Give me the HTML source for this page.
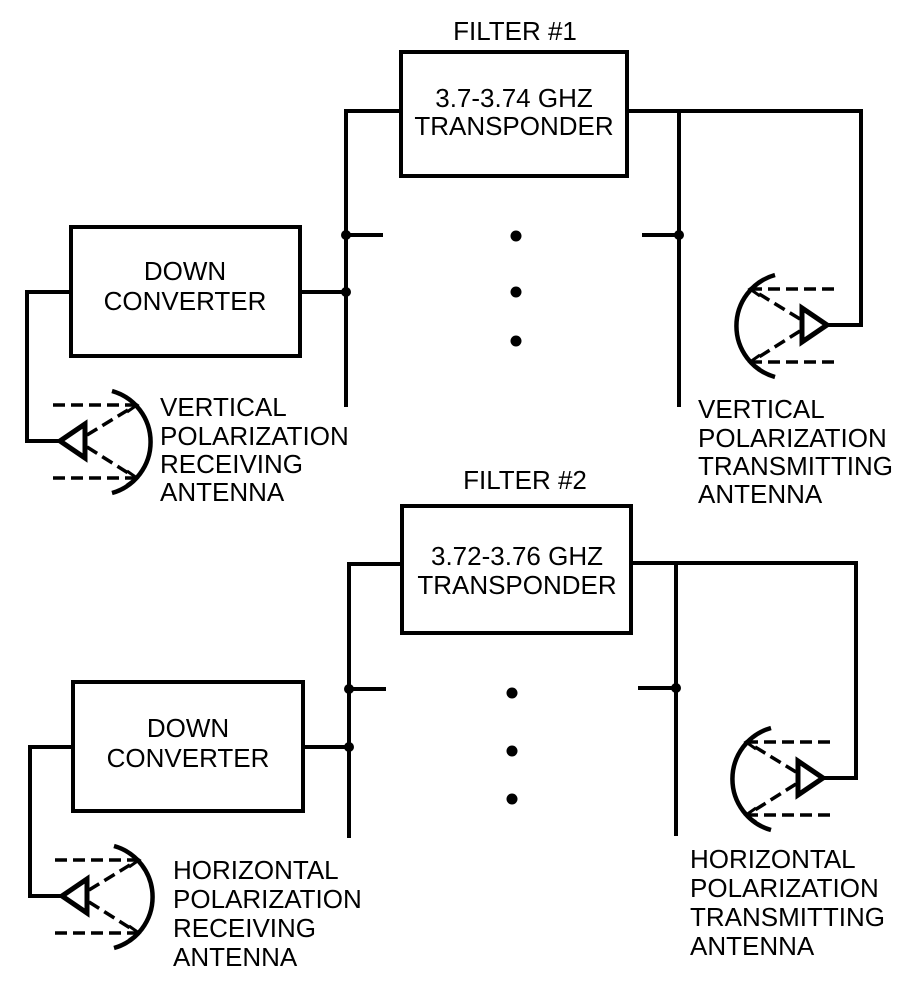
<!DOCTYPE html>
<html><head><meta charset="utf-8"><style>
html,body{margin:0;padding:0;background:#fff}
svg{display:block}
text{font-family:"Liberation Sans",Arial,sans-serif;font-size:26px;fill:#000}
</style></head><body>
<svg width="917" height="985" viewBox="0 0 917 985" xmlns="http://www.w3.org/2000/svg">
<defs>
<g id="ant" fill="none" stroke="#000">
  <path d="M0,0 L25,-17 L25,17 Z" stroke-width="5" stroke-linejoin="miter"/>
  <path d="M52,-50 A53,53 0 0 1 52,52" stroke-width="4.5"/>
  <g stroke-width="3.5" stroke-dasharray="12,6">
    <line x1="-7" y1="-36" x2="76" y2="-36"/>
    <line x1="-7" y1="37" x2="76" y2="37"/>
    <line x1="27" y1="-6" x2="76" y2="-36"/>
    <line x1="27" y1="6" x2="76" y2="37"/>
  </g>
  <path d="M67,-43 L77,-36 L67,-29" stroke-width="3"/>
  <path d="M67,30 L77,37 L67,44" stroke-width="3"/>
</g>
</defs>
<g stroke="#000" stroke-width="4" fill="none">
  <rect x="401" y="52" width="226" height="124"/>
  <polyline points="401,111 346,111 346,407"/>
  <line x1="346" y1="235" x2="383" y2="235"/>
  <rect x="71" y="227" width="229" height="129"/>
  <line x1="300" y1="292" x2="346" y2="292"/>
  <polyline points="71,292 27,292 27,441 60,441"/>
  <polyline points="627,111 861,111 861,325 827,325"/>
  <line x1="679" y1="111" x2="679" y2="407"/>
  <line x1="642" y1="235" x2="679" y2="235"/>
  <rect x="402" y="506" width="229" height="127"/>
  <polyline points="402,564 349,564 349,838"/>
  <line x1="349" y1="689" x2="386" y2="689"/>
  <rect x="73" y="682" width="230" height="129"/>
  <line x1="303" y1="747" x2="349" y2="747"/>
  <polyline points="73,747 30,747 30,896 62,896"/>
  <polyline points="631,563 856,563 856,778 823,778"/>
  <line x1="676" y1="563" x2="676" y2="836"/>
  <line x1="638" y1="688" x2="676" y2="688"/>
</g>
<g fill="#000">
  <circle cx="346" cy="235" r="5"/><circle cx="346" cy="292" r="5"/>
  <circle cx="679" cy="235" r="5"/>
  <circle cx="516" cy="236" r="5.5"/><circle cx="516" cy="292" r="5.5"/><circle cx="516" cy="341" r="5.5"/>
  <circle cx="349" cy="689" r="5"/><circle cx="349" cy="747" r="5"/>
  <circle cx="676" cy="688" r="5"/>
  <circle cx="512" cy="693" r="5.5"/><circle cx="512" cy="751" r="5.5"/><circle cx="512" cy="799" r="5.5"/>
</g>
<use href="#ant" transform="translate(60,441)"/>
<use href="#ant" transform="translate(62,896)"/>
<use href="#ant" transform="translate(827,325) scale(-1,1)"/>
<use href="#ant" transform="translate(823,778) scale(-1,1)"/>
<g text-anchor="middle">
  <text x="515" y="40">FILTER #1</text>
  <text x="514" y="107">3.7-3.74 GHZ</text>
  <text x="514" y="135">TRANSPONDER</text>
  <text x="185" y="280">DOWN</text>
  <text x="185" y="310">CONVERTER</text>
  <text x="525" y="489">FILTER #2</text>
  <text x="517" y="565">3.72-3.76 GHZ</text>
  <text x="517" y="594">TRANSPONDER</text>
  <text x="188" y="737">DOWN</text>
  <text x="188" y="767">CONVERTER</text>
</g>
<text x="160" y="416">VERTICAL</text>
<text x="160" y="445">POLARIZATION</text>
<text x="160" y="473">RECEIVING</text>
<text x="160" y="501">ANTENNA</text>
<text x="698" y="418">VERTICAL</text>
<text x="698" y="447">POLARIZATION</text>
<text x="698" y="475">TRANSMITTING</text>
<text x="698" y="503">ANTENNA</text>
<text x="173" y="879">HORIZONTAL</text>
<text x="173" y="908">POLARIZATION</text>
<text x="173" y="937">RECEIVING</text>
<text x="173" y="966">ANTENNA</text>
<text x="690" y="868">HORIZONTAL</text>
<text x="690" y="897">POLARIZATION</text>
<text x="690" y="926">TRANSMITTING</text>
<text x="690" y="955">ANTENNA</text>
</svg>
</body></html>
